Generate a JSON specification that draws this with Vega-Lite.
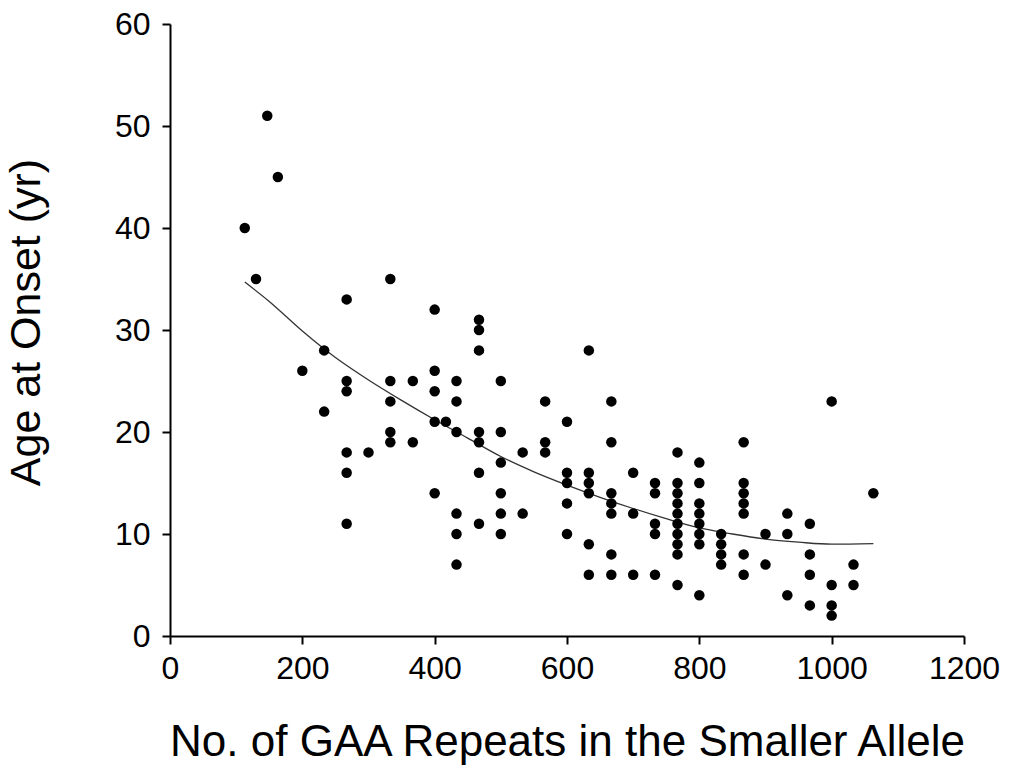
{
  "$schema": "https://vega.github.io/schema/vega-lite/v6.json",
  "width": 794,
  "height": 612,
  "autosize": {"type": "none"},
  "padding": {"left": 170, "top": 24, "right": 45, "bottom": 129},
  "background": "white",
  "config": {
    "view": {"stroke": null},
    "font": "Liberation Sans",
    "axis": {
      "grid": false,
      "domainColor": "black",
      "domainWidth": 2,
      "tickColor": "black",
      "tickWidth": 2,
      "tickSize": 8,
      "labelFont": "Liberation Sans",
      "labelFontSize": 32,
      "labelColor": "black",
      "titleFont": "Liberation Sans",
      "titleFontWeight": "normal",
      "titleColor": "black"
    }
  },
  "datasets": {
    "pts": [
      {"repeats": 113, "age": 40}, {"repeats": 130, "age": 35}, {"repeats": 147, "age": 51}, {"repeats": 163, "age": 45},
      {"repeats": 200, "age": 26},
      {"repeats": 233, "age": 28}, {"repeats": 233, "age": 22},
      {"repeats": 267, "age": 33}, {"repeats": 267, "age": 25}, {"repeats": 267, "age": 24}, {"repeats": 267, "age": 18}, {"repeats": 267, "age": 16}, {"repeats": 267, "age": 11},
      {"repeats": 300, "age": 18},
      {"repeats": 333, "age": 35}, {"repeats": 333, "age": 25}, {"repeats": 333, "age": 23}, {"repeats": 333, "age": 20}, {"repeats": 333, "age": 19},
      {"repeats": 367, "age": 25}, {"repeats": 367, "age": 19},
      {"repeats": 400, "age": 32}, {"repeats": 400, "age": 26}, {"repeats": 400, "age": 24}, {"repeats": 400, "age": 21}, {"repeats": 400, "age": 14},
      {"repeats": 417, "age": 21},
      {"repeats": 433, "age": 25}, {"repeats": 433, "age": 23}, {"repeats": 433, "age": 20}, {"repeats": 433, "age": 12}, {"repeats": 433, "age": 10}, {"repeats": 433, "age": 7},
      {"repeats": 467, "age": 31}, {"repeats": 467, "age": 30}, {"repeats": 467, "age": 28}, {"repeats": 467, "age": 20}, {"repeats": 467, "age": 19}, {"repeats": 467, "age": 16}, {"repeats": 467, "age": 11},
      {"repeats": 500, "age": 25}, {"repeats": 500, "age": 20}, {"repeats": 500, "age": 17}, {"repeats": 500, "age": 14}, {"repeats": 500, "age": 12}, {"repeats": 500, "age": 10},
      {"repeats": 533, "age": 18}, {"repeats": 533, "age": 12},
      {"repeats": 567, "age": 23}, {"repeats": 567, "age": 19}, {"repeats": 567, "age": 18},
      {"repeats": 600, "age": 21}, {"repeats": 600, "age": 16}, {"repeats": 600, "age": 15}, {"repeats": 600, "age": 13}, {"repeats": 600, "age": 10},
      {"repeats": 633, "age": 28}, {"repeats": 633, "age": 16}, {"repeats": 633, "age": 15}, {"repeats": 633, "age": 14}, {"repeats": 633, "age": 9}, {"repeats": 633, "age": 6},
      {"repeats": 667, "age": 23}, {"repeats": 667, "age": 19}, {"repeats": 667, "age": 14}, {"repeats": 667, "age": 13}, {"repeats": 667, "age": 12}, {"repeats": 667, "age": 8}, {"repeats": 667, "age": 6},
      {"repeats": 700, "age": 16}, {"repeats": 700, "age": 12}, {"repeats": 700, "age": 6},
      {"repeats": 733, "age": 15}, {"repeats": 733, "age": 14}, {"repeats": 733, "age": 11}, {"repeats": 733, "age": 10}, {"repeats": 733, "age": 6},
      {"repeats": 767, "age": 18}, {"repeats": 767, "age": 15}, {"repeats": 767, "age": 14}, {"repeats": 767, "age": 13}, {"repeats": 767, "age": 12}, {"repeats": 767, "age": 11}, {"repeats": 767, "age": 10}, {"repeats": 767, "age": 9}, {"repeats": 767, "age": 8}, {"repeats": 767, "age": 5},
      {"repeats": 800, "age": 17}, {"repeats": 800, "age": 15}, {"repeats": 800, "age": 13}, {"repeats": 800, "age": 12}, {"repeats": 800, "age": 11}, {"repeats": 800, "age": 10}, {"repeats": 800, "age": 9}, {"repeats": 800, "age": 4},
      {"repeats": 833, "age": 10}, {"repeats": 833, "age": 9}, {"repeats": 833, "age": 8}, {"repeats": 833, "age": 7},
      {"repeats": 867, "age": 19}, {"repeats": 867, "age": 15}, {"repeats": 867, "age": 14}, {"repeats": 867, "age": 13}, {"repeats": 867, "age": 12}, {"repeats": 867, "age": 8}, {"repeats": 867, "age": 6},
      {"repeats": 900, "age": 10}, {"repeats": 900, "age": 7},
      {"repeats": 933, "age": 12}, {"repeats": 933, "age": 10}, {"repeats": 933, "age": 4},
      {"repeats": 967, "age": 11}, {"repeats": 967, "age": 8}, {"repeats": 967, "age": 6}, {"repeats": 967, "age": 3},
      {"repeats": 1000, "age": 23}, {"repeats": 1000, "age": 5}, {"repeats": 1000, "age": 3}, {"repeats": 1000, "age": 2},
      {"repeats": 1033, "age": 7}, {"repeats": 1033, "age": 5},
      {"repeats": 1063, "age": 14}
    ],
    "fit": [
      {"repeats": 113, "age": 34.7}, {"repeats": 150, "age": 32.8}, {"repeats": 200, "age": 29.9}, {"repeats": 250, "age": 27.3},
      {"repeats": 300, "age": 25.1}, {"repeats": 350, "age": 23.1}, {"repeats": 400, "age": 21.2}, {"repeats": 450, "age": 19.4},
      {"repeats": 500, "age": 17.6}, {"repeats": 550, "age": 16.1}, {"repeats": 600, "age": 14.8}, {"repeats": 650, "age": 13.6},
      {"repeats": 700, "age": 12.5}, {"repeats": 750, "age": 11.5}, {"repeats": 800, "age": 10.6}, {"repeats": 850, "age": 10.0},
      {"repeats": 900, "age": 9.5}, {"repeats": 950, "age": 9.2}, {"repeats": 1000, "age": 9.0}, {"repeats": 1063, "age": 9.05}
    ]
  },
  "encoding": {
    "x": {
      "field": "repeats", "type": "quantitative",
      "scale": {"domain": [0, 1200], "nice": false},
      "axis": {"values": [0, 200, 400, 600, 800, 1000, 1200], "format": "d", "title": "No. of GAA Repeats in the Smaller Allele", "titleFontSize": 44, "labelPadding": 9, "titlePadding": 36, "labelFlush": false}
    },
    "y": {
      "field": "age", "type": "quantitative",
      "scale": {"domain": [0, 60], "nice": false},
      "axis": {"values": [0, 10, 20, 30, 40, 50, 60], "format": "d", "title": "Age at Onset (yr)", "titleFontSize": 43, "labelPadding": 12, "titlePadding": 66, "titleY": 298, "labelFlush": false}
    }
  },
  "layer": [
    {
      "data": {"name": "fit"},
      "mark": {"type": "line", "color": "#333333", "strokeWidth": 1.3, "interpolate": "monotone"}
    },
    {
      "data": {"name": "pts"},
      "mark": {"type": "circle", "color": "black", "opacity": 1, "size": 110}
    }
  ]
}
